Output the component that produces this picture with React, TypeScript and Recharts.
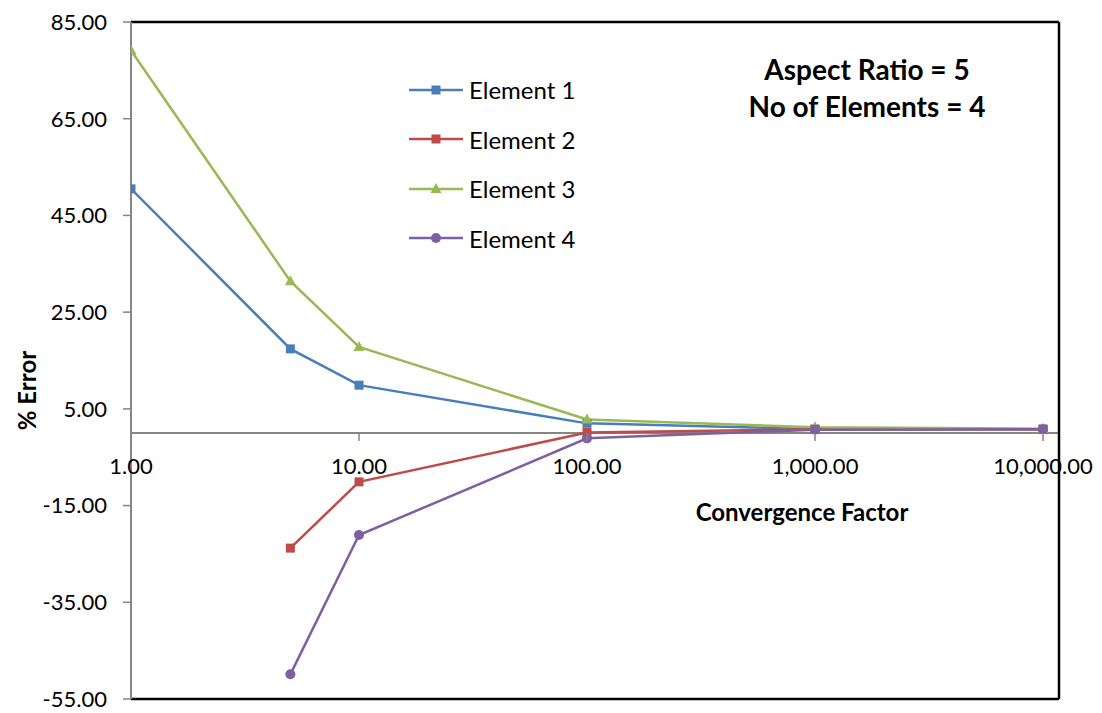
import { LineChart, Line, XAxis, YAxis, ReferenceLine, Legend } from "recharts";

// Convergence study: % error vs convergence factor (log axis)
const X_VALUES = [1, 5, 10, 100, 1000, 10000];
const ELEMENT_1 = [50.5, 17.4, 9.9, 2.0, 0.8, 0.8];
const ELEMENT_2 = [null, -23.8, -10.1, 0.1, 0.8, 0.8];
const ELEMENT_3 = [79.1, 31.4, 17.8, 2.8, 1.2, 0.9];
const ELEMENT_4 = [null, -49.9, -21.1, -1.1, 0.7, 0.8];

const X_TICKS = [1, 10, 100, 1000, 10000];
const Y_TICKS = [-55, -35, -15, 5, 25, 45, 65, 85];
const X_MAX = 11750;

const SERIES = [
  { key: "e1", name: "Element 1", color: "#4A7EBB", shape: "square" },
  { key: "e2", name: "Element 2", color: "#BE4B48", shape: "square" },
  { key: "e3", name: "Element 3", color: "#98B954", shape: "triangle" },
  { key: "e4", name: "Element 4", color: "#7D60A0", shape: "circle" },
];

const data = X_VALUES.map((x, i) => ({
  x,
  e1: ELEMENT_1[i],
  e2: ELEMENT_2[i],
  e3: ELEMENT_3[i],
  e4: ELEMENT_4[i],
}));

const W = 1102;
const H = 713;
const TOP = 22;
const BOTTOM = 13;
const X_AXIS_H = 1;
const PLOT_H = H - TOP - BOTTOM - X_AXIS_H;
const Y_MIN = -55;
const Y_MAX = 85;
const ZERO_Y = TOP + (PLOT_H * (Y_MAX - 0)) / (Y_MAX - Y_MIN);

const FONT = "Lato, 'Open Sans', sans-serif";

function Marker({ shape, color, cx, cy }: { shape: string; color: string; cx: number; cy: number }) {
  if (shape === "square") return <rect x={cx - 4.5} y={cy - 4.5} width={9} height={9} fill={color} />;
  if (shape === "triangle")
    return <polygon points={`${cx},${cy - 6} ${cx + 5.5},${cy + 4} ${cx - 5.5},${cy + 4}`} fill={color} />;
  return <circle cx={cx} cy={cy} r={5} fill={color} />;
}

const dotFor = (shape: string, color: string) => (props: any) => {
  const { cx, cy, index, value } = props;
  if (cx == null || cy == null || value == null) return <g key={index} />;
  return (
    <g key={index}>
      <Marker shape={shape} color={color} cx={cx} cy={cy} />
    </g>
  );
};

const fmtX = (v: number) =>
  v.toLocaleString("en-US", { minimumFractionDigits: 2, maximumFractionDigits: 2 });

function XTick({ x, payload }: any) {
  return (
    <g>
      <line x1={x} x2={x} y1={ZERO_Y} y2={ZERO_Y + 8} stroke="#868686" strokeWidth={1.5} />
      <text x={x} y={ZERO_Y + 41} textAnchor="middle" fontSize={22} fontFamily={FONT} fill="#000">
        {fmtX(payload.value)}
      </text>
    </g>
  );
}

function LegendBox() {
  return (
    <div style={{ fontFamily: FONT, fontSize: 24, color: "#000" }}>
      {SERIES.map((s) => (
        <div key={s.key} style={{ height: 49.5, display: "flex", alignItems: "center" }}>
          <svg width={56} height={20} style={{ marginRight: 5 }}>
            <line x1={1} x2={55} y1={10} y2={10} stroke={s.color} strokeWidth={2.5} />
            <Marker shape={s.shape} color={s.color} cx={28} cy={10} />
          </svg>
          <span>{s.name}</span>
        </div>
      ))}
    </div>
  );
}

export default function App() {
  return (
    <div style={{ position: "absolute", left: 0, top: 0, width: W, height: H, background: "#fff" }}>
      <LineChart width={W} height={H} data={data} margin={{ top: TOP, right: 43, bottom: BOTTOM, left: 0 }}>
        <XAxis
          dataKey="x"
          type="number"
          scale="log"
          domain={[1, X_MAX]}
          ticks={X_TICKS}
          allowDataOverflow
          height={X_AXIS_H}
          axisLine={false}
          tickLine={false}
          tick={<XTick />}
          interval={0}
        />
        <YAxis
          type="number"
          domain={[Y_MIN, Y_MAX]}
          ticks={Y_TICKS}
          width={131}
          interval={0}
          tickFormatter={(v: number) => v.toFixed(2)}
          tick={{ fontSize: 22, fontFamily: FONT, fill: "#000" }}
          tickSize={8}
          tickMargin={16}
          axisLine={{ stroke: "#868686", strokeWidth: 2 }}
          tickLine={{ stroke: "#868686", strokeWidth: 1.5 }}
          label={{
            value: "% Error",
            position: "insideLeft",
            content: (p: any) => {
              const vb = p.viewBox;
              const cx = vb.x + 26;
              const cy = vb.y + vb.height / 2 + 30;
              return (
                <text
                  x={cx}
                  y={cy}
                  transform={`rotate(-90 ${cx} ${cy})`}
                  textAnchor="middle"
                  dominantBaseline="central"
                  fontSize={24}
                  fontWeight={700}
                  fontFamily={FONT}
                  fill="#000"
                >
                  % Error
                </text>
              );
            },
          }}
        />
        <ReferenceLine y={0} stroke="#868686" strokeWidth={2} />
        <ReferenceLine y={Y_MAX} stroke="#000" strokeWidth={2.5} />
        <ReferenceLine y={Y_MIN} stroke="#000" strokeWidth={2.5} />
        <ReferenceLine x={X_MAX} stroke="#000" strokeWidth={2.5} />
        <Legend
          layout="vertical"
          verticalAlign="middle"
          align="center"
          wrapperStyle={{ top: 65, left: 408, width: 240 }}
          content={<LegendBox />}
        />
        {SERIES.map((s) => (
          <Line
            key={s.key}
            dataKey={s.key}
            name={s.name}
            stroke={s.color}
            strokeWidth={2.5}
            dot={dotFor(s.shape, s.color)}
            activeDot={false}
            isAnimationActive={false}
          />
        ))}
      </LineChart>
      <div
        style={{
          position: "absolute",
          left: 717,
          top: 51,
          width: 300,
          textAlign: "center",
          fontFamily: FONT,
          fontWeight: 700,
          fontSize: 28,
          lineHeight: "37px",
          color: "#000",
          whiteSpace: "nowrap",
        }}
      >
        <div>Aspect Ratio = 5</div>
        <div>No of Elements = 4</div>
      </div>
      <div
        style={{
          position: "absolute",
          left: 652,
          top: 497,
          width: 300,
          textAlign: "center",
          fontFamily: FONT,
          fontWeight: 700,
          fontSize: 24,
          color: "#000",
          whiteSpace: "nowrap",
        }}
      >
        Convergence Factor
      </div>
    </div>
  );
}
